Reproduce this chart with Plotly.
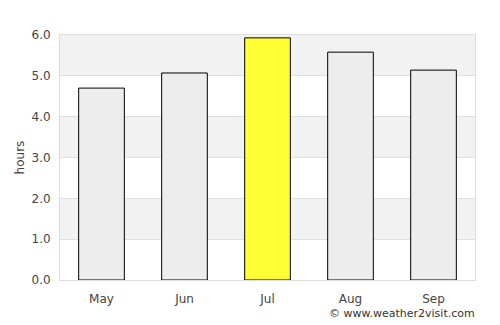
import plotly.graph_objects as go

months = ["May", "Jun", "Jul", "Aug", "Sep"]
hours = [4.70, 5.07, 5.93, 5.58, 5.14]
colors = ["#ededed", "#ededed", "#ffff33", "#ededed", "#ededed"]
tick_vals = [0, 1, 2, 3, 4, 5, 6]
tick_text = ["0.0", "1.0", "2.0", "3.0", "4.0", "5.0", "6.0"]

fig = go.Figure()
fig.add_trace(go.Bar(x=months, y=hours, marker=dict(color=colors, line=dict(color="#000000", width=1)),
                     width=0.55, hoverinfo="x+y"))

shapes = []
for lo in [1, 3, 5]:
    shapes.append(dict(type="rect", xref="paper", yref="y", x0=0, x1=1, y0=lo, y1=lo + 1,
                       fillcolor="#f2f2f2", line=dict(width=0), layer="below"))

fig.update_layout(
    width=500, height=325,
    margin=dict(l=60, r=25, t=35, b=45),
    paper_bgcolor="white", plot_bgcolor="white",
    font=dict(family="DejaVu Sans", size=12, color="#444444"),
    shapes=shapes,
    showlegend=False,
    bargap=0.45,
    xaxis=dict(showline=True, linecolor="#dddddd", mirror=True, ticks="", showgrid=False,
               ticklabelstandoff=8,
               tickfont=dict(size=12, color="#444444")),
    yaxis=dict(range=[0, 6], tickvals=tick_vals, ticktext=tick_text, showgrid=True,
               gridcolor="#e0e0e0", showline=True, linecolor="#dddddd", mirror=True,
               zeroline=False, ticks="", ticklen=0, ticklabelstandoff=6,
               title=dict(text="hours", font=dict(size=12, color="#444444"), standoff=4),
               tickfont=dict(size=12, color="#444444")),
    annotations=[dict(text="© www.weather2visit.com", xref="paper", yref="paper",
                      x=1.005, y=-0.135, xanchor="right", yanchor="middle", showarrow=False,
                      font=dict(size=11, color="#333333"))],
)

fig.write_html("out.html")
